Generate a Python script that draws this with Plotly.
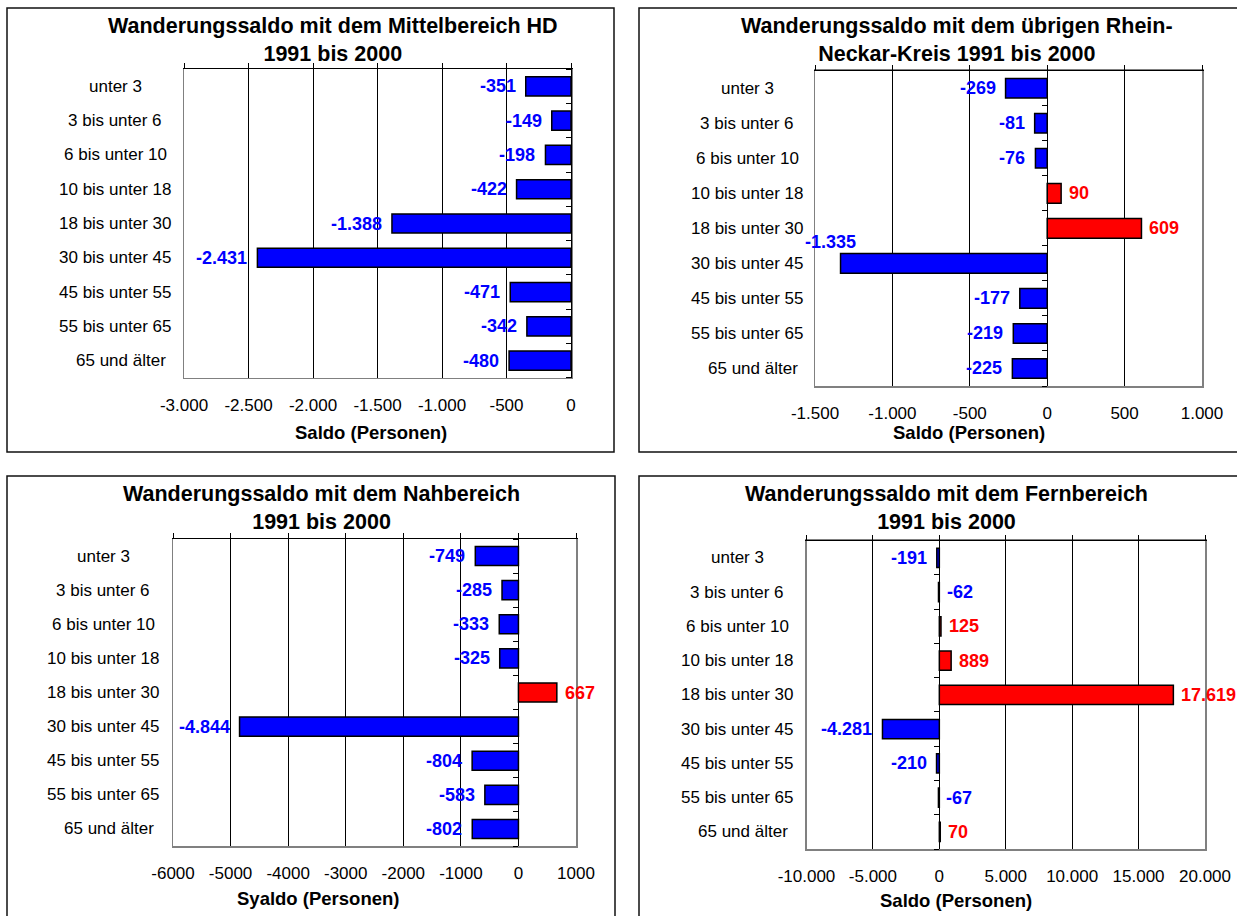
import plotly.graph_objects as go

W, H = 1237, 916
OFF = 0  # page body margin is removed by the post script below

categories = ["unter 3", "3 bis unter 6", "6 bis unter 10", "10 bis unter 18",
              "18 bis unter 30", "30 bis unter 45", "45 bis unter 55",
              "55 bis unter 65", "65 und älter"]

values_mittelbereich = [-351, -149, -198, -422, -1388, -2431, -471, -342, -480]
values_rnk = [-269, -81, -76, 90, 609, -1335, -177, -219, -225]
values_nahbereich = [-749, -285, -333, -325, 667, -4844, -804, -583, -802]
values_fernbereich = [-191, -62, 125, 889, 17619, -4281, -210, -67, 70]

ticks_p1 = [-3000, -2500, -2000, -1500, -1000, -500, 0]
ticklabels_p1 = ["-3.000", "-2.500", "-2.000", "-1.500", "-1.000", "-500", "0"]
ticks_p2 = [-1500, -1000, -500, 0, 500, 1000]
ticklabels_p2 = ["-1.500", "-1.000", "-500", "0", "500", "1.000"]
ticks_p3 = [-6000, -5000, -4000, -3000, -2000, -1000, 0, 1000]
ticklabels_p3 = ["-6000", "-5000", "-4000", "-3000", "-2000", "-1000", "0", "1000"]
ticks_p4 = [-10000, -5000, 0, 5000, 10000, 15000, 20000]
ticklabels_p4 = ["-10.000", "-5.000", "0", "5.000", "10.000", "15.000", "20.000"]

titles = ["Wanderungssaldo mit dem Mittelbereich HD<br>1991 bis 2000",
          "Wanderungssaldo mit dem übrigen Rhein-<br>Neckar-Kreis 1991 bis 2000",
          "Wanderungssaldo mit dem Nahbereich<br>1991 bis 2000",
          "Wanderungssaldo mit dem Fernbereich<br>1991 bis 2000"]
axis_titles = ["Saldo (Personen)", "Saldo (Personen)", "Syaldo (Personen)", "Saldo (Personen)"]

FONT = "Liberation Sans, Arial, sans-serif"
BLUE = "#0000FF"
RED = "#FF0000"
CAT_SHIFT = {8: 6}  # small horizontal nudge of a category label (style)

# layout of each panel in window pixels (style / placement only)
panels = [
    dict(vals=values_mittelbereich, ticks=ticks_p1, tl=ticklabels_p1, rng=[-3000, 0],
         plot=(184, 571, 69.3, 377.7), box=(7, 614, 8, 452), title_xy=(333, 39.5),
         cat_x=115, axt_xy=(371, 432), overrides={}),
    dict(vals=values_rnk, ticks=ticks_p2, tl=ticklabels_p2, rng=[-1500, 1000],
         plot=(815, 1202, 70.7, 386), box=(639, 1250, 8, 452), title_xy=(957, 39.5),
         cat_x=747, axt_xy=(969, 432), overrides={5: ("right", 17, 21)}),
    dict(vals=values_nahbereich, ticks=ticks_p3, tl=ticklabels_p3, rng=[-6000, 1000],
         plot=(173, 576, 539, 846), box=(7, 615, 476, 930), title_xy=(321, 507.5),
         cat_x=103, axt_xy=(318, 898), overrides={}),
    dict(vals=values_fernbereich, ticks=ticks_p4, tl=ticklabels_p4, rng=[-10000, 20000],
         plot=(806.5, 1205, 540.7, 849), box=(639, 1250, 476, 930), title_xy=(946, 507.5),
         cat_x=737, axt_xy=(956, 900), overrides={1: ("left", 6, 0), 7: ("left", 6, 0)}),
]


def px(x):
    return (x - OFF) / W


def py(y):
    return 1 - (y - OFF) / H


def fmt(v):
    return f"{v:,}".replace(",", ".")


fig = go.Figure()
annotations = []
shapes = []
layout = {}
n = len(categories)
yrange = [n - 0.5, -0.5]

for i, p in enumerate(panels):
    k = i + 1
    xa = "x" if k == 1 else f"x{k}"
    ya = "y" if k == 1 else f"y{k}"
    xo = f"x{k + 4}"   # top axis overlay
    yo = f"y{k + 4}"   # category axis at zero
    vals = p["vals"]
    colors = [BLUE if v < 0 else RED for v in vals]
    fig.add_trace(go.Bar(
        x=vals, y=categories, orientation="h", width=0.56,
        marker=dict(color=colors, line=dict(color="black", width=1.5)),
        xaxis=xa, yaxis=ya, showlegend=False, hoverinfo="x+y"))
    fig.add_trace(go.Scatter(x=[], y=[], xaxis=xo, yaxis=ya, showlegend=False))
    fig.add_trace(go.Scatter(x=[], y=[], xaxis=xa, yaxis=yo, showlegend=False))

    l, r, t, b = p["plot"]
    xname = "xaxis" if k == 1 else f"xaxis{k}"
    yname = "yaxis" if k == 1 else f"yaxis{k}"
    layout[xname] = dict(
        domain=[px(l), px(r)], anchor=ya, range=p["rng"], tickmode="array",
        tickvals=p["ticks"], ticktext=p["tl"], showgrid=True, gridcolor="black",
        gridwidth=1, zeroline=False, showline=True, linecolor="#808080",
        linewidth=1.5, mirror=True, ticks="", ticklabelstandoff=11, automargin=False,
        tickfont=dict(family=FONT, size=17, color="black"), fixedrange=True)
    layout[yname] = dict(
        domain=[py(b), py(t)], anchor=xa, type="category",
        categoryorder="array", categoryarray=categories, range=yrange,
        showticklabels=False, showgrid=False, zeroline=False, showline=True,
        linecolor="#808080", linewidth=1.5, mirror=True, ticks="", automargin=False,
        fixedrange=True)
    layout[f"xaxis{k + 4}"] = dict(
        overlaying=xa, anchor=ya, side="top", range=p["rng"], tickmode="array",
        tickvals=p["ticks"], showticklabels=False, showgrid=False, zeroline=False,
        showline=True, linecolor="black", linewidth=1, ticks="outside",
        ticklen=5, tickcolor="black", tickwidth=1, automargin=False, fixedrange=True)
    zero_px = l + (0 - p["rng"][0]) / (p["rng"][1] - p["rng"][0]) * (r - l)
    layout[f"yaxis{k + 4}"] = dict(
        overlaying=ya, anchor="free", position=px(zero_px), side="left",
        type="linear", range=yrange, tickmode="array",
        tickvals=[j + 0.5 for j in range(-1, n)], showticklabels=False,
        showgrid=False, zeroline=False, showline=True, linecolor="black",
        linewidth=1, ticks="outside", ticklen=5, tickcolor="black", tickwidth=1,
        automargin=False, fixedrange=True)

    x0, x1, y0, y1 = p["box"]
    shapes.append(dict(type="rect", xref="paper", yref="paper", x0=px(x0), x1=px(x1),
                       y0=py(y1), y1=py(y0), line=dict(color="#111111", width=1.5),
                       layer="below"))
    tx, ty = p["title_xy"]
    annotations.append(dict(text=f"<b>{titles[i]}</b>", xref="paper", yref="paper",
                            x=px(tx), y=py(ty), xanchor="center", yanchor="middle",
                            showarrow=False,
                            font=dict(family=FONT, size=21.5, color="black")))
    ax, ay = p["axt_xy"]
    annotations.append(dict(text=f"<b>{axis_titles[i]}</b>", xref="paper", yref="paper",
                            x=px(ax), y=py(ay), xanchor="center", yanchor="middle",
                            showarrow=False,
                            font=dict(family=FONT, size=18.5, color="black")))
    for j, c in enumerate(categories):
        annotations.append(dict(text=c, xref="paper", yref=ya, x=px(p["cat_x"]), y=c,
                                xanchor="center", yanchor="middle", showarrow=False,
                                xshift=CAT_SHIFT.get(j, 0),
                                font=dict(family=FONT, size=17, color="black")))
    for j, v in enumerate(vals):
        if j in p["overrides"]:
            anc, xs, ys = p["overrides"][j]
        elif v < 0:
            anc, xs, ys = "right", -8, 0
        else:
            anc, xs, ys = "left", 6, 0
        annotations.append(dict(text=f"<b>{fmt(v)}</b>", xref=xa, yref=ya, x=v,
                                y=categories[j], xanchor=anc, yanchor="middle",
                                xshift=xs, yshift=ys, showarrow=False,
                                font=dict(family=FONT, size=18,
                                          color=BLUE if v < 0 else RED)))

fig.update_layout(
    template="none",
    width=W, height=H, margin=dict(l=0, r=0, t=0, b=0, pad=0, autoexpand=False),
    paper_bgcolor="white", plot_bgcolor="white",
    bargap=0.44, showlegend=False, hovermode=False,
    annotations=annotations, shapes=shapes,
    font=dict(family=FONT, color="black"),
    **layout)

fig.write_html(
    "out.html",
    config={"displayModeBar": False, "staticPlot": True},
    post_script="document.body.style.margin='0';"
                "document.documentElement.style.overflow='hidden';"
                "document.body.style.overflow='hidden';")
